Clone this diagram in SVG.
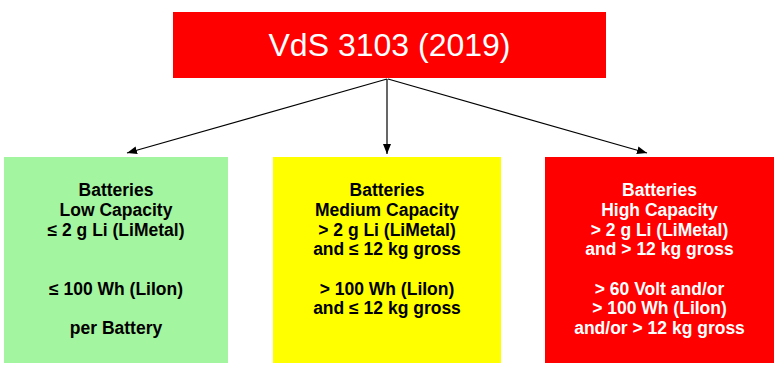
<svg xmlns="http://www.w3.org/2000/svg" width="776" height="367" viewBox="0 0 776 367">
<style>
.t{font-family:"Liberation Sans",Arial,sans-serif;font-weight:bold;font-size:17.5px;text-anchor:middle}
.dk{fill:#000}
.wt{fill:#fff}
.cn{stroke:#000;stroke-width:1.2;fill:none}
</style>
<defs>
<marker id="ah" viewBox="0 0 10 8" refX="10" refY="4" markerWidth="10" markerHeight="8" markerUnits="userSpaceOnUse" orient="auto">
<path d="M0,0 L10,4 L0,8 Z" fill="#000"/>
</marker>
</defs>
<rect width="776" height="367" fill="#fff"/>
<g id="connectors">
<line class="cn" x1="387" y1="79" x2="127" y2="153" marker-end="url(#ah)"/>
<line class="cn" x1="387" y1="79" x2="387" y2="154" marker-end="url(#ah)"/>
<line class="cn" x1="388" y1="79" x2="647" y2="153" marker-end="url(#ah)"/>
</g>
<g id="title">
<rect x="173" y="12" width="433" height="66" fill="#ff0000"/>
<text x="389.5" y="56" fill="#fff" font-family="Liberation Sans,Arial,sans-serif" font-size="32" text-anchor="middle">VdS 3103 (2019)</text>
</g>
<g id="low">
<rect x="4" y="157" width="224" height="206" fill="#a4f5a0"/>
<text class="t dk"><tspan x="116" y="196">Batteries</tspan><tspan x="116" y="216">Low Capacity</tspan><tspan x="116" y="236">≤ 2 g Li (LiMetal)</tspan><tspan x="116" y="295">≤ 100 Wh (LiIon)</tspan><tspan x="116" y="334">per Battery</tspan></text>
</g>
<g id="medium">
<rect x="273" y="157" width="228" height="206" fill="#ffff00"/>
<text class="t dk"><tspan x="387" y="196">Batteries</tspan><tspan x="387" y="216">Medium Capacity</tspan><tspan x="387" y="236">&gt; 2 g Li (LiMetal)</tspan><tspan x="387" y="255">and ≤ 12 kg gross</tspan><tspan x="387" y="295">&gt; 100 Wh (LiIon)</tspan><tspan x="387" y="314">and ≤ 12 kg gross</tspan></text>
</g>
<g id="high">
<rect x="545" y="157" width="229" height="206" fill="#ff0000"/>
<text class="t wt"><tspan x="659.5" y="196">Batteries</tspan><tspan x="659.5" y="216">High Capacity</tspan><tspan x="659.5" y="236">&gt; 2 g Li (LiMetal)</tspan><tspan x="659.5" y="255">and &gt; 12 kg gross</tspan><tspan x="659.5" y="295">&gt; 60 Volt and/or</tspan><tspan x="659.5" y="314">&gt; 100 Wh (LiIon)</tspan><tspan x="659.5" y="334">and/or &gt; 12 kg gross</tspan></text>
</g>
</svg>
